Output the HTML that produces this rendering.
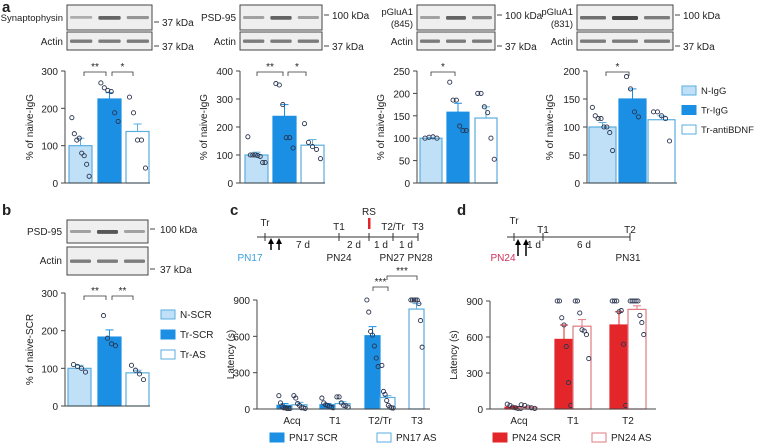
<!DOCTYPE html>
<html><head><meta charset="utf-8"><style>
body{margin:0;background:#fff;width:759px;height:443px;overflow:hidden}
svg{font-family:"Liberation Sans",sans-serif}
text{fill:#222}
</style></head><body>
<svg id="fig" width="759" height="443" viewBox="0 0 759 443"></svg>
<script>
const NS='http://www.w3.org/2000/svg';
const svg=document.getElementById('fig');
function el(t,a,p){const e=document.createElementNS(NS,t);for(const k in a)e.setAttribute(k,a[k]);(p||svg).appendChild(e);return e;}
function tx(x,y,s,o,p){o=o||{};const e=el('text',Object.assign({x:x,y:y,'font-size':o.fs||10,'text-anchor':o.a||'start'},o.extra||{}),p);e.textContent=s;if(o.fill)e.style.fill=o.fill;return e;}

// ---- data ----
const a1Bars=[100,225,138], a1Err=[120,242,158];
const a1Pts=[[175,132,115,120,80,73,50,18],[268,255,248,245,188,165],[230,188,115,115,40]];
const a2Bars=[100,238,135], a2Err=[110,280,155];
const a2Pts=[[165,100,100,100,98,95,73,73],[355,350,280,162,162,125],[212,145,130,120,87]];
const a3Bars=[100,158,145], a3Err=[102,178,170];
const a3Pts=[[100,102,103,100],[225,185,185,127,117,117],[200,200,170,157,100,53]];
const a4Bars=[100,150,113], a4Err=[108,168,120];
const a4Pts=[[135,120,115,115,100,100,90,58],[190,168,127,118],[127,127,120,115,75]];
const bBars=[100,183,88], bErr=[108,202,95];
const bPts=[[110,105,100,90],[240,180,165,160],[108,95,85,70]];
const cCats=['Acq','T1','T2/Tr','T3'];
const cBars=[30,35,35,45,605,95,825], cErr=[45,55,45,60,680,110,870];
const cPts=[[110,50,20,10,10,5,5,5],[110,90,45,30,10,10,5],[90,50,35,30,20,15,10],[100,100,50,30,25,15],[900,800,640,610,520,420,350],[360,145,120,70,30,15,10,8],[900,900,900,900,900,870,730,510]];
const dCats=['Acq','T1','T2'];
const dBars=[15,12,580,690,700,830], dErr=[22,20,700,745,810,860];
const dPts=[[40,30,15,10,5,5],[35,30,15,10,5],[900,900,760,700,520,220,30],[900,900,800,660,650,620,420],[900,900,900,810,820,540,30],[900,900,900,900,900,780,720,620]];

const LB={fill:'#bfe0f7',stroke:'#5aaee0'}, TB={fill:'#1a8fe3',stroke:'#1a8fe3'}, WB={fill:'#fff',stroke:'#5aaee0'};
const RB={fill:'#e3262a',stroke:'#e3262a'}, RW={fill:'#fff',stroke:'#e07a80'};

function chart(name,ax,y0,yT,max,ticks,xEnd,bars,label,lx){
  const g=el('g',{});
  const Y=v=>y0-(v/max)*(y0-yT);
  bars.forEach((b,i)=>{
    const r=el('rect',{x:b.x,y:Y(b.v),width:b.w,height:y0-Y(b.v),fill:b.s.fill,stroke:b.s.stroke,'stroke-width':1.2},g);
    
    const cx=b.x+b.w/2;
    el('line',{x1:cx,x2:cx,y1:Y(b.v),y2:Y(b.e),stroke:b.s.stroke,'stroke-width':1},g);
    el('line',{x1:cx-4,x2:cx+4,y1:Y(b.e),y2:Y(b.e),stroke:b.s.stroke,'stroke-width':1},g);
    const n=b.p.length;
    const sp=n>1?Math.min(4,(b.w*0.75)/(n-1)):0;
    b.p.forEach((v,j)=>{const off=(j-(n-1)/2)*sp;
      el('circle',{cx:cx+off,cy:Y(v),r:2.1,fill:'none',stroke:'#2b3550','stroke-width':0.9},g);});
  });
  el('line',{x1:ax,x2:ax,y1:yT,y2:y0,stroke:'#444','stroke-width':1},g);
  el('line',{x1:ax,x2:xEnd,y1:y0,y2:y0,stroke:'#444','stroke-width':1},g);
  ticks.forEach(t=>{el('line',{x1:ax-4,x2:ax,y1:Y(t),y2:Y(t),stroke:'#444'},g);tx(ax-7,Y(t)+4,String(t),{a:'end',fs:10},g);});
  const yl=tx(lx,(y0+yT)/2,label,{a:'middle',fs:10,extra:{transform:`rotate(-90 ${lx} ${(y0+yT)/2})`}},g);
  
  return Y;
}
function mk(xs,w,vals,errs,pts,styles){return vals.map((v,i)=>({x:xs[i],w:w,v:v,e:errs[i],p:pts[i],s:styles[i]}));}
function bracket(x1,x2,y,s){el('path',{d:`M${x1} ${y+4}V${y}H${x2}V${y+4}`,fill:'none',stroke:'#333','stroke-width':0.8});tx((x1+x2)/2,y-2,s,{a:'middle',fs:10});}
function blot(x,y,w,h,ints,name){
  const g=el('g',{});
  el('rect',{x:x,y:y,width:w,height:h,fill:'#efefef',stroke:'#444','stroke-width':1},g);
  ints.forEach((k,i)=>{const bw=w/3-6;el('rect',{x:x+3+i*w/3,y:y+h/2-1.5,width:bw,height:2.5+k*1.5,rx:1.2,fill:'#222',opacity:0.2+k*0.6},g);});
}
[['a',2,12],['b',2,215],['c',230,215],['d',457,215]].forEach(l=>{const t=tx(l[1],l[2],l[0],{fs:15,extra:{'font-weight':'bold'}});});

const blots=[[67,152,'Synaptophysin',null,[0.2,0.8,0.4]],[240,322,'PSD-95',null,[0.3,0.8,0.3]],[417,495,'pGluA1','(845)',[0.3,0.8,0.5]],[577,673,'pGluA1','(831)',[0.7,1,0.6]]];
blots.forEach((b,i)=>{blot(b[0],5,b[1]-b[0],25,b[4],'blot-target-'+(i+1));blot(b[0],32,b[1]-b[0],18,[0.6,0.6,0.6],'blot-actin-'+(i+1));
  if(b[3]){tx(b[0]-4,15,b[2],{a:'end',fs:9.5});tx(b[0]-4,27,b[3],{a:'end',fs:9.5});}else tx(b[0]-4,21,b[2],{a:'end',fs:i==0?9.5:10});
  tx(b[0]-4,45,'Actin',{a:'end',fs:10});
  const big=i>0;el('line',{x1:b[1]+2,x2:b[1]+7,y1:big?15:22,y2:big?15:22,stroke:'#444'});el('line',{x1:b[1]+2,x2:b[1]+7,y1:46,y2:46,stroke:'#444'});
  tx(b[1]+10,big?19:26,big?'100 kDa':'37 kDa',{fs:10});tx(b[1]+10,50,'37 kDa',{fs:10});});

chart('chart-synaptophysin',65,183,71,300,[0,100,200,300],150,mk([69,98,126],23,a1Bars,a1Err,a1Pts,[LB,TB,WB]),'% of naive-IgG',33);
bracket(84,106,72,'**');bracket(112,133,72,'*');
chart('chart-psd95',240,183,71,400,[0,100,200,300,400],325,mk([245,273,301],23,a2Bars,a2Err,a2Pts,[LB,TB,WB]),'% of naive-IgG',207);
bracket(257,283,72,'**');bracket(288,306,72,'*');
chart('chart-pglua1-845',417,183,71,250,[0,50,100,150,200,250],498,mk([420,447,475],22,a3Bars,a3Err,a3Pts,[LB,TB,WB]),'% of naive-IgG',384);
bracket(431,455,72,'*');
chart('chart-pglua1-831',587,183,71,200,[0,50,100,150,200],677,mk([589,619,648],27,a4Bars,a4Err,a4Pts,[LB,TB,WB]),'% of naive-IgG',553);
bracket(606,629,72,'*');
function legend(x,y,items,name,gap,fs){items.forEach((it,i)=>{const g=el('g',{});
  el('rect',{x:x,y:y+i*gap-8,width:14,height:9,fill:it[1].fill,stroke:it[1].stroke},g);tx(x+19,y+i*gap,it[0],{fs:fs||10},g);});}
legend(682,94,[['N-IgG',LB],['Tr-IgG',TB],['Tr-antiBDNF',WB]],'legend-a',19.5,9.5);

blot(67,220,81,23,[0.3,0.9,0.3],'blot-b-psd95');blot(67,247,81,28,[0.6,0.6,0.6],'blot-b-actin');
tx(62,235,'PSD-95',{a:'end',fs:10});tx(62,264,'Actin',{a:'end',fs:10});
el('line',{x1:150,x2:155,y1:229,y2:229,stroke:'#444'});el('line',{x1:150,x2:155,y1:269,y2:269,stroke:'#444'});
tx(160,233,'100 kDa',{fs:10});tx(160,273,'37 kDa',{fs:10});
chart('chart-b',65,406,293,300,[0,100,200,300],150,mk([68,98,126],23,bBars,bErr,bPts,[LB,TB,WB]),'% of naive-SCR',33);
bracket(84,106,296,'**');bracket(112,133,296,'**');
legend(161,318,[['N-SCR',LB],['Tr-SCR',TB],['Tr-AS',WB]],'legend-b',20);

function tl(x1,x2,y,ticks){const g=el('g',{});el('line',{x1:x1,x2:x2,y1:y,y2:y,stroke:'#333'},g);
  ticks.forEach(t=>el('line',{x1:t,x2:t,y1:y-4,y2:y+4,stroke:'#333'},g));return g;}
function arrow(x,y1,y2,c){el('line',{x1:x,x2:x,y1:y1,y2:y2+4,stroke:c||'#000','stroke-width':1.5});el('path',{d:`M${x-3} ${y2+5}L${x} ${y2-1}L${x+3} ${y2+5}Z`,fill:c||'#000'});}
tl(257,418,237,[265,339,369,393,418]);
arrow(271,250,239);arrow(279,250,239);
el('rect',{x:368,y:218,width:2.5,height:11,fill:'#e3262a'});
tx(265,226,'Tr',{a:'middle',fs:10});tx(339,230,'T1',{a:'middle',fs:10});tx(369,215,'RS',{a:'middle',fs:10});tx(393,230,'T2/Tr',{a:'middle',fs:10});tx(418,230,'T3',{a:'middle',fs:10});
tx(303,248,'7 d',{a:'middle',fs:10});tx(354,248,'2 d',{a:'middle',fs:10});tx(381,248,'1 d',{a:'middle',fs:10});tx(406,248,'1 d',{a:'middle',fs:10});
tx(250,261,'PN17',{a:'middle',fs:10,fill:'#3aa0e0'});tx(339,261,'PN24',{a:'middle',fs:10});tx(392,261,'PN27',{a:'middle',fs:10});tx(420,261,'PN28',{a:'middle',fs:10});

tl(507,630,237,[514,543,630]);
arrow(518,256,240);arrow(526,256,240);
tx(514,224,'Tr',{a:'middle',fs:10});tx(543,233,'T1',{a:'middle',fs:10});tx(630,233,'T2',{a:'middle',fs:10});
tx(534,248,'1 d',{a:'middle',fs:10});tx(584,248,'6 d',{a:'middle',fs:10});
tx(503,261,'PN24',{a:'middle',fs:10,fill:'#d0305a'});tx(628,261,'PN31',{a:'middle',fs:10});

const cX=[277,292,320,335,365,380,409], cS=[TB,WB,TB,WB,TB,WB,WB];
chart('chart-c',257,409,300,900,[0,300,600,900],430,mk(cX,15,cBars,cErr,cPts,cS),'Latency (s)',234);
const cCx=[292,335,380,417];
cCats.forEach((c,i)=>tx(cCx[i],424,c,{a:'middle',fs:10}));
bracket(373,388,287,'***');bracket(387,417,276,'***');
legend(270,441,[['PN17 SCR',TB]],'legend-c',0);legend(377,441,[['PN17 AS',WB]],'legend-c',0);

const dX=[505,519,555,573,610,628], dS=[RB,RW,RB,RW,RB,RW];
chart('chart-d',490,409,301,900,[0,300,600,900],656,mk(dX,18,dBars,dErr,dPts,dS),'Latency (s)',457);
const dCx=[519,573,628];
dCats.forEach((c,i)=>tx(dCx[i],424,c,{a:'middle',fs:10}));
legend(493,441,[['PN24 SCR',RB]],'legend-d',0);legend(592,441,[['PN24 AS',RW]],'legend-d',0);
</script>
</body></html>
